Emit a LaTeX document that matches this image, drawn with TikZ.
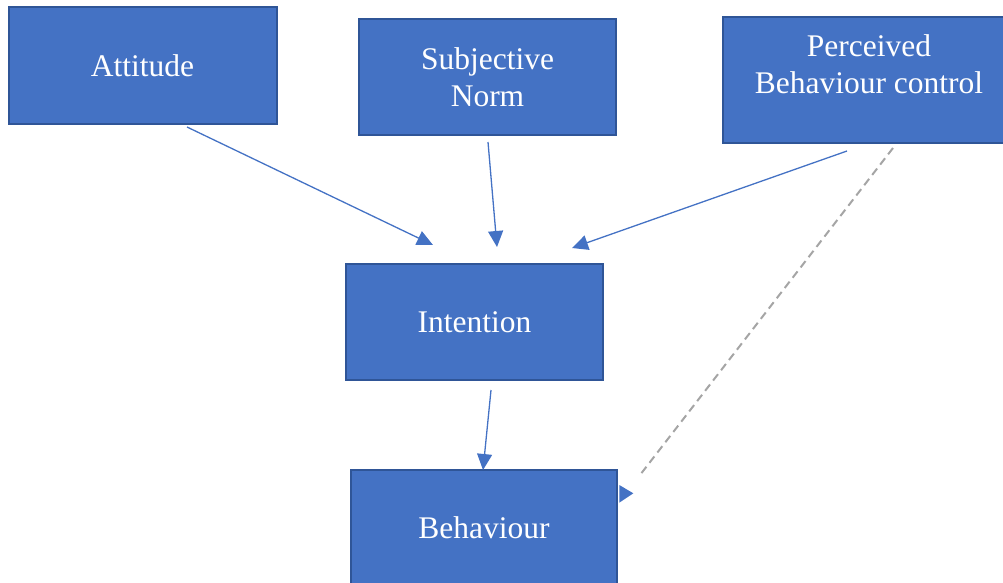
\documentclass[tikz,border=0pt]{standalone}
\usepackage{fontspec}
\setmainfont{Liberation Serif}
\usetikzlibrary{arrows.meta}
\definecolor{boxfill}{HTML}{4472C4}
\definecolor{boxline}{HTML}{2F5597}
\definecolor{dashgray}{HTML}{A5A5A5}
\tikzset{
  box/.style={draw=boxline, line width=2pt, fill=boxfill, text=white, align=center,
    font=\fontsize{31.5}{37}\selectfont, inner sep=0pt},
  txt/.style={text=white, align=center, font=\fontsize{31.5}{37}\selectfont, inner sep=0pt},
  conn/.style={draw=boxfill, line width=1.3pt, -{Triangle[length=16pt,width=15pt]}},
  dashconn/.style={draw=dashgray, line width=2pt, dash pattern=on 8pt off 5pt},
}
\begin{document}
\begin{tikzpicture}[x=1pt,y=-1pt]
\useasboundingbox (0,0) rectangle (1003,583);
\clip (0,0) rectangle (1003,583);
% boxes
\node[box, minimum width=268pt, minimum height=117pt] (att) at (142.5,65.5) {Attitude};
\node[box, minimum width=257pt, minimum height=116pt] (sn) at (487.5,77) {Subjective\\Norm};
\node[box, minimum width=292pt, minimum height=126pt] (pbc) at (869,80) {};
\node[txt] (pbctext) at (869,64) {Perceived\\Behaviour control};
\node[box, minimum width=257pt, minimum height=116pt] (int) at (474.5,322) {Intention};
\node[box, minimum width=266pt, minimum height=116pt] (beh) at (484,528) {Behaviour};
% connector end points
\coordinate (a1) at (187,127);
\coordinate (a2) at (433,245);
\coordinate (b1) at (488,142);
\coordinate (b2) at (497,247);
\coordinate (c1) at (847,151);
\coordinate (c2) at (572,248);
\coordinate (d1) at (491,390);
\coordinate (d2) at (483,470);
\coordinate (e1) at (893,148);
\coordinate (e2) at (640,475);
% connectors
\draw[conn] (a1) -- (a2);
\draw[conn] (b1) -- (b2);
\draw[conn] (c1) -- (c2);
\draw[conn] (d1) -- (d2);
\draw[dashconn] (e1) -- (e2);
\fill[boxfill] (619.3,485) -- (633.3,493.3) -- (619.3,502.7) -- cycle;
\end{tikzpicture}
\end{document}
